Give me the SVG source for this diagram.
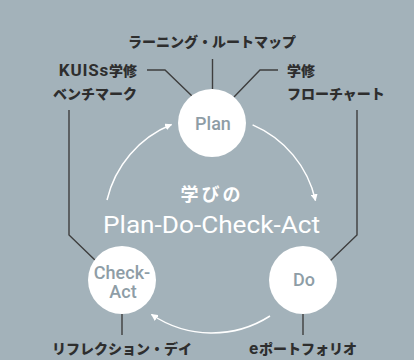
<svg xmlns="http://www.w3.org/2000/svg" width="414" height="360" viewBox="0 0 414 360">
<defs>
<style>
.lbl{font-family:"Noto Sans CJK JP","Noto Sans",sans-serif;font-weight:900;font-size:14px;fill:#2e2e2e}
.lat{font-family:"Roboto","Noto Sans",sans-serif;font-weight:700;font-size:17px;letter-spacing:0.8px}
.node circle{fill:#ffffff}
.node text{font-family:"Roboto","Noto Sans",sans-serif;font-weight:500;font-size:18px;fill:#8e9da6;text-anchor:middle}
.conn{fill:none;stroke:#3e3e3e;stroke-width:1.4}
.arc{fill:none;stroke:#ffffff;stroke-width:1.5}
</style>
<marker id="ah" viewBox="0 0 10 10" refX="9" refY="5" markerWidth="7" markerHeight="7" markerUnits="userSpaceOnUse" orient="auto">
<path d="M0,0 L10,5 L0,10 Z" fill="#ffffff"/>
</marker>
</defs>
<rect width="414" height="360" fill="#a3b2ba"/>
<g id="connectors">
<path class="conn" d="M212.5 59 V89"/>
<path class="conn" d="M147 70 H165 L192 96"/>
<path class="conn" d="M278 70 H260 L234 97"/>
<path class="conn" d="M69 110 V235 L96 261"/>
<path class="conn" d="M357 110 V235 L330 261"/>
<path class="conn" d="M122 314 V335"/>
<path class="conn" d="M303 314 V335"/>
<path class="arc" d="M107 200 A108 108 0 0 1 171.5 124.5" marker-end="url(#ah)"/>
<path class="arc" d="M252.6 124.9 A108 108 0 0 1 315.5 200.5" marker-end="url(#ah)"/>
<path class="arc" d="M270 316 A108 108 0 0 1 151.5 314.5" marker-end="url(#ah)"/>
</g>
<g id="node-plan" class="node"><circle cx="212" cy="123" r="34"/><text x="213" y="130">Plan</text></g>
<g id="node-do" class="node"><circle cx="303" cy="280" r="34"/><text x="304" y="286">Do</text></g>
<g id="node-check" class="node"><circle cx="122" cy="280" r="34"/><text x="122" y="279">Check-</text><text x="123" y="298">Act</text></g>
<g id="labels">
<text class="lbl" x="212" y="47" text-anchor="middle">ラーニング・ルートマップ</text>
<text class="lbl" x="137" y="76" text-anchor="end"><tspan class="lat">KUISs</tspan>学修</text>
<text class="lbl" x="137" y="99" text-anchor="end">ベンチマーク</text>
<text class="lbl" x="287" y="76">学修</text>
<text class="lbl" x="287" y="99">フローチャート</text>
<text class="lbl" x="122" y="354" text-anchor="middle">リフレクション・デイ</text>
<text class="lbl" x="303" y="354" text-anchor="middle"><tspan class="lat" font-size="16">e</tspan>ポートフォリオ</text>
</g>
<g id="title">
<text x="212" y="201" text-anchor="middle" font-family="Noto Sans CJK JP, sans-serif" font-weight="700" font-size="18" letter-spacing="3" fill="#ffffff">学びの</text>
<text x="211.5" y="233" text-anchor="middle" font-family="Roboto, sans-serif" font-weight="400" font-size="24" textLength="217" lengthAdjust="spacingAndGlyphs" fill="#ffffff">Plan-Do-Check-Act</text>
</g>
</svg>
